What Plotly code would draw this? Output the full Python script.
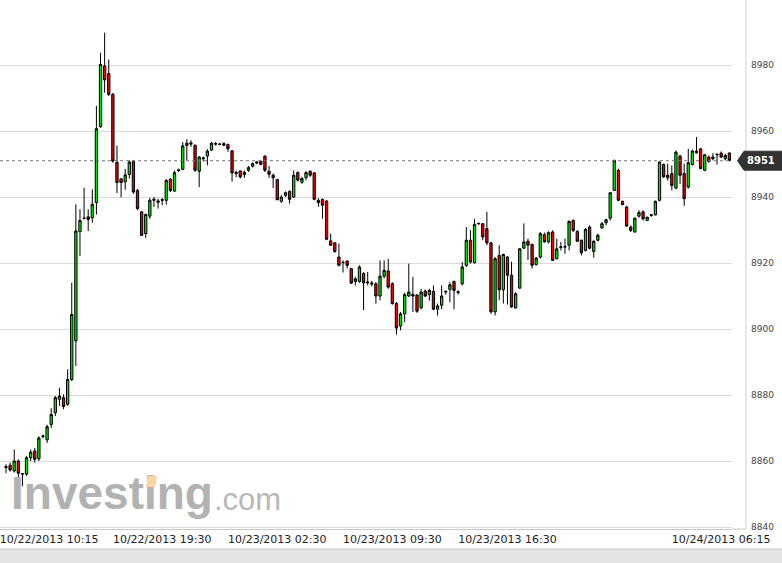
import plotly.graph_objects as go

open_ = [8858.0, 8858.7, 8857.0, 8860.0, 8856.0, 8856.0, 8861.0, 8863.0, 8860.7, 8867.4,
         8866.4, 8871.1, 8874.6, 8878.7, 8879.2, 8877.2, 8884.7, 8896.4, 8929.5, 8933.5,
         8934.0, 8933.7, 8938.3, 8961.3, 8979.7, 8977.4, 8971.1, 8950.5, 8945.5, 8944.6,
         8946.8, 8950.8, 8942.0, 8935.5, 8928.9, 8934.2, 8939.0, 8938.4, 8939.0, 8939.0,
         8945.4, 8941.8, 8948.0, 8948.4, 8955.6, 8956.0, 8955.7, 8947.8, 8951.6, 8952.4,
         8954.2, 8956.0, 8956.0, 8956.2, 8955.9, 8954.0, 8947.1, 8947.9, 8946.8, 8948.1,
         8949.3, 8950.3, 8950.8, 8952.4, 8947.8, 8946.6, 8945.3, 8938.7, 8940.5, 8941.7,
         8940.0, 8947.4, 8944.5, 8945.9, 8947.8, 8947.3, 8939.0, 8939.3, 8938.8, 8926.7,
         8926.1, 8921.8, 8920.1, 8920.6, 8918.3, 8914.4, 8914.4, 8916.8, 8914.0, 8913.6,
         8913.7, 8910.0, 8916.0, 8917.6, 8913.7, 8907.7, 8900.9, 8904.6, 8910.0, 8910.5,
         8910.3, 8906.4, 8911.5, 8910.4, 8911.4, 8906.0, 8907.2, 8911.2, 8912.0, 8914.4,
         8911.0, 8913.7, 8919.3, 8926.9, 8920.1, 8931.9, 8931.9, 8930.4, 8926.1, 8905.2,
         8922.3, 8911.9, 8921.8, 8916.3, 8906.4, 8912.4, 8924.5, 8926.6, 8925.6, 8919.5,
         8921.8, 8928.6, 8926.4, 8929.4, 8921.3, 8924.7, 8924.8, 8925.4, 8932.9, 8929.6,
         8926.9, 8923.8, 8930.9, 8923.5, 8926.9, 8930.6, 8932.2, 8933.6, 8942.0, 8948.1,
         8938.7, 8937.0, 8930.9, 8929.4, 8934.2, 8935.5, 8932.9, 8934.4, 8934.6, 8939.0,
         8949.9, 8945.8, 8947.1, 8942.7, 8952.4, 8947.1, 8943.0, 8949.8, 8953.4, 8954.6,
         8948.1, 8952.1, 8951.6, 8952.8, 8953.3, 8951.6, 8953.3]
high = [8859.0, 8859.5, 8863.5, 8860.5, 8856.3, 8861.5, 8863.5, 8864.0, 8867.5, 8868.0,
        8871.0, 8876.0, 8879.7, 8882.2, 8880.2, 8887.8, 8914.0, 8937.8, 8936.3, 8942.8,
        8936.3, 8942.3, 8967.6, 8983.7, 8989.8, 8981.7, 8971.6, 8955.6, 8945.6, 8948.5,
        8951.1, 8951.1, 8942.5, 8935.7, 8935.0, 8939.7, 8940.0, 8939.5, 8939.7, 8945.5,
        8945.8, 8948.0, 8948.6, 8956.7, 8957.5, 8957.2, 8955.9, 8952.4, 8952.3, 8954.5,
        8956.7, 8956.7, 8956.3, 8956.6, 8956.2, 8954.2, 8948.0, 8948.0, 8948.0, 8949.4,
        8950.5, 8950.8, 8951.1, 8952.6, 8949.4, 8947.1, 8945.4, 8940.5, 8941.7, 8942.0,
        8948.1, 8947.8, 8946.1, 8947.8, 8948.1, 8947.6, 8939.7, 8939.5, 8939.0, 8928.9,
        8926.4, 8925.9, 8920.8, 8920.8, 8918.5, 8915.8, 8919.3, 8917.3, 8917.3, 8914.6,
        8914.2, 8920.8, 8920.8, 8921.3, 8914.2, 8908.2, 8905.2, 8911.0, 8919.8, 8915.8,
        8910.6, 8912.2, 8912.0, 8912.2, 8913.2, 8907.7, 8913.2, 8911.7, 8914.2, 8914.7,
        8911.7, 8920.3, 8930.9, 8929.9, 8933.4, 8932.2, 8932.1, 8935.5, 8926.4, 8921.8,
        8925.4, 8922.8, 8922.1, 8920.4, 8911.2, 8924.5, 8932.0, 8927.4, 8925.9, 8921.8,
        8929.4, 8929.2, 8929.6, 8929.9, 8927.3, 8926.4, 8927.4, 8932.9, 8933.2, 8929.9,
        8927.1, 8930.6, 8931.4, 8926.9, 8928.9, 8932.4, 8933.4, 8941.5, 8951.3, 8948.6,
        8938.9, 8937.3, 8931.4, 8933.8, 8936.0, 8936.0, 8934.0, 8934.8, 8938.9, 8950.8,
        8950.1, 8950.1, 8949.6, 8954.1, 8952.8, 8950.1, 8954.6, 8954.4, 8958.2, 8954.8,
        8953.1, 8952.6, 8953.3, 8953.3, 8953.8, 8953.1, 8953.6]
low = [8856.3, 8856.8, 8856.5, 8853.4, 8852.4, 8855.5, 8860.0, 8859.5, 8860.0, 8866.8,
       8865.5, 8870.0, 8873.6, 8876.7, 8875.7, 8876.7, 8884.2, 8888.8, 8922.1, 8933.2,
       8929.7, 8932.2, 8934.7, 8961.0, 8971.6, 8970.6, 8950.4, 8941.2, 8939.9, 8942.2,
       8945.6, 8941.0, 8936.0, 8928.2, 8927.6, 8933.4, 8937.0, 8936.5, 8937.5, 8937.7,
       8941.5, 8941.5, 8947.6, 8948.1, 8951.1, 8955.2, 8947.6, 8943.0, 8950.8, 8949.6,
       8954.0, 8955.6, 8955.7, 8955.4, 8953.7, 8944.6, 8946.0, 8945.6, 8945.8, 8947.6,
       8948.9, 8949.9, 8949.6, 8947.6, 8945.8, 8942.7, 8939.0, 8938.2, 8940.0, 8938.0,
       8939.7, 8944.7, 8944.0, 8945.1, 8946.1, 8939.0, 8937.0, 8933.4, 8926.9, 8925.2,
       8923.1, 8919.0, 8917.1, 8918.3, 8913.7, 8913.2, 8914.0, 8905.7, 8913.2, 8912.9,
       8907.7, 8908.7, 8915.3, 8912.2, 8907.4, 8898.3, 8899.6, 8902.1, 8909.7, 8905.2,
       8904.9, 8906.0, 8909.7, 8908.6, 8905.7, 8904.1, 8906.0, 8910.4, 8908.1, 8906.0,
       8910.4, 8913.2, 8918.8, 8919.8, 8919.8, 8931.5, 8926.9, 8925.4, 8904.6, 8904.1,
       8908.7, 8907.7, 8907.4, 8906.4, 8906.2, 8912.2, 8924.3, 8920.9, 8918.3, 8919.3,
       8921.3, 8926.2, 8925.9, 8920.6, 8921.1, 8923.8, 8922.8, 8923.8, 8929.4, 8926.4,
       8922.3, 8923.5, 8924.1, 8921.6, 8926.6, 8930.4, 8931.4, 8932.9, 8941.8, 8938.7,
       8937.5, 8930.9, 8929.4, 8929.2, 8933.7, 8932.9, 8932.7, 8934.0, 8934.4, 8938.7,
       8945.8, 8945.0, 8942.0, 8942.5, 8944.0, 8937.3, 8942.5, 8949.6, 8953.1, 8948.4,
       8947.8, 8950.4, 8951.1, 8949.8, 8951.8, 8951.1, 8950.8]
close = [8858.3, 8857.3, 8860.0, 8856.3, 8856.2, 8861.0, 8862.7, 8860.5, 8867.0, 8867.6,
         8870.4, 8874.1, 8879.2, 8879.7, 8876.5, 8884.7, 8904.4, 8929.7, 8932.9, 8933.6,
         8933.2, 8937.8, 8960.7, 8980.2, 8975.5, 8971.1, 8950.9, 8944.4, 8944.4, 8946.7,
         8950.6, 8941.5, 8936.5, 8928.4, 8934.7, 8939.0, 8939.3, 8938.8, 8939.2, 8945.0,
         8942.0, 8947.4, 8948.2, 8955.5, 8956.3, 8956.4, 8948.1, 8952.1, 8951.8, 8953.9,
         8956.3, 8956.2, 8956.0, 8955.7, 8954.6, 8947.3, 8947.5, 8946.1, 8947.5, 8948.9,
         8950.1, 8950.6, 8949.9, 8948.1, 8946.9, 8945.8, 8939.2, 8940.0, 8941.3, 8939.3,
         8946.6, 8945.1, 8945.6, 8947.4, 8946.6, 8939.3, 8938.3, 8937.5, 8927.2, 8925.4,
         8923.5, 8919.3, 8920.2, 8919.3, 8913.9, 8915.2, 8918.8, 8914.0, 8914.2, 8913.9,
         8910.0, 8916.0, 8917.8, 8912.7, 8907.7, 8900.3, 8904.6, 8910.4, 8911.2, 8910.0,
         8905.4, 8911.2, 8910.0, 8911.7, 8906.0, 8907.0, 8910.0, 8911.4, 8913.4, 8911.7,
         8911.3, 8918.8, 8926.9, 8920.3, 8931.7, 8932.0, 8927.9, 8926.1, 8905.2, 8921.3,
         8911.9, 8922.6, 8916.3, 8906.7, 8910.7, 8924.3, 8926.4, 8925.4, 8919.3, 8921.5,
         8928.9, 8926.4, 8929.2, 8920.8, 8924.3, 8924.9, 8925.0, 8932.6, 8929.9, 8926.6,
         8923.1, 8930.2, 8924.5, 8926.6, 8928.4, 8931.9, 8933.1, 8941.3, 8951.1, 8939.0,
         8937.7, 8931.2, 8929.9, 8933.6, 8935.3, 8933.4, 8933.9, 8934.6, 8938.7, 8950.6,
         8946.1, 8946.6, 8943.5, 8953.6, 8946.6, 8939.5, 8950.4, 8953.9, 8953.9, 8948.6,
         8952.8, 8950.8, 8952.1, 8952.9, 8952.1, 8952.6, 8951.1]

candle_index = list(range(1, len(close) + 1))

tick_positions = [11.5, 39, 67, 95, 123, 175]
tick_labels = ["10/22/2013 10:15", "10/22/2013 19:30", "10/23/2013 02:30",
               "10/23/2013 09:30", "10/23/2013 16:30", "10/24/2013 06:15"]
y_ticks = [8840, 8860, 8880, 8900, 8920, 8940, 8960, 8980]
last_price = 8951

W, H = 782, 563
plot_w, plot_h = 732, 529
x_range = [-0.46, 177.64]
y_range = [8839.4, 8999.7]


def px_to_x(px):
    return x_range[0] + px * (x_range[1] - x_range[0]) / plot_w


def py_to_y(py):
    return y_range[1] - py * (y_range[1] - y_range[0]) / plot_h


fig = go.Figure()

# watermark (drawn beneath the candles)
fig.add_trace(go.Scatter(
    x=[px_to_x(11), px_to_x(214)], y=[py_to_y(497), py_to_y(502)],
    mode="text", text=["<b>Investing</b>", ".com"], textposition="middle right",
    textfont=dict(family="Liberation Sans", size=[46, 31], color=["#b2b2b2", "#b8b8b8"]),
    hoverinfo="skip", cliponaxis=False,
))

fig.add_trace(go.Candlestick(
    x=candle_index, open=open_, high=high, low=low, close=close,
    increasing=dict(fillcolor="#00e400", line=dict(color="#000000", width=1)),
    decreasing=dict(fillcolor="#ee0000", line=dict(color="#000000", width=1)),
    whiskerwidth=0, hoverinfo="skip",
))

fig.update_layout(
    width=W, height=H,
    margin=dict(l=0, r=W - plot_w, t=0, b=H - plot_h, autoexpand=False),
    paper_bgcolor="white", plot_bgcolor="white",
    showlegend=False, boxgap=0.2,
    xaxis=dict(
        range=x_range, rangeslider=dict(visible=False), automargin=False,
        tickmode="array", tickvals=tick_positions, ticktext=tick_labels,
        ticklabeloverflow="allow",
        showgrid=False, zeroline=False, showline=True, linecolor="#c8c8c8", linewidth=1,
        ticks="", tickfont=dict(family="DejaVu Sans", size=11, color="#222222"),
    ),
    yaxis=dict(
        range=y_range, side="right", automargin=False,
        tickmode="array", tickvals=y_ticks, ticktext=[str(v) for v in y_ticks],
        showgrid=True, gridcolor="#dadada", gridwidth=1, zeroline=False,
        showline=False, ticks="", ticklabelstandoff=18,
        tickfont=dict(family="DejaVu Sans", size=9, color="#444444"),
    ),
)

shapes = [
    dict(type="line", xref="paper", yref="y", x0=0, x1=1, y0=last_price, y1=last_price,
         line=dict(color="#777777", width=1, dash="dot"), layer="above"),
    dict(type="line", xref="paper", yref="paper", x0=746 / plot_w, x1=746 / plot_w, y0=0, y1=1,
         line=dict(color="#cfcfcf", width=1)),
    dict(type="line", xref="paper", yref="paper", x0=1, x1=746 / plot_w, y0=0, y1=0,
         line=dict(color="#c8c8c8", width=1)),
    dict(type="rect", xref="paper", yref="paper", x0=-0.01, x1=W / plot_w + 0.01,
         y0=-(549 - plot_h) / plot_h, y1=-(H + 5 - plot_h) / plot_h,
         fillcolor="#e4e4e4", line=dict(color="#c8c8c8", width=1)),
    dict(type="path", xref="paper", yref="y", xanchor=1, yanchor=last_price,
         xsizemode="pixel", ysizemode="pixel",
         path="M 5.5,0 L 12,9.5 L 60,9.5 L 60,-9.5 L 12,-9.5 Z",
         fillcolor="#333333", line=dict(color="#333333", width=1)),
    # orange dot of the watermark "i"
    dict(type="path", xref="x", yref="y", xanchor=px_to_x(146), yanchor=py_to_y(487),
         xsizemode="pixel", ysizemode="pixel",
         path="M 0,0 L 9,0 L 11,11 L 2,11 Z",
         fillcolor="#f6d6a2", line=dict(width=0), layer="above"),
]
fig.update_layout(shapes=shapes)

fig.add_annotation(x=1, xref="paper", y=last_price, yref="y", xshift=29,
                   text="<b>%d</b>" % last_price, showarrow=False, xanchor="center",
                   font=dict(family="DejaVu Sans", size=10, color="white"))

fig.write_html("out.html", config={"displayModeBar": False},
               post_script="document.body.style.margin='0';")
